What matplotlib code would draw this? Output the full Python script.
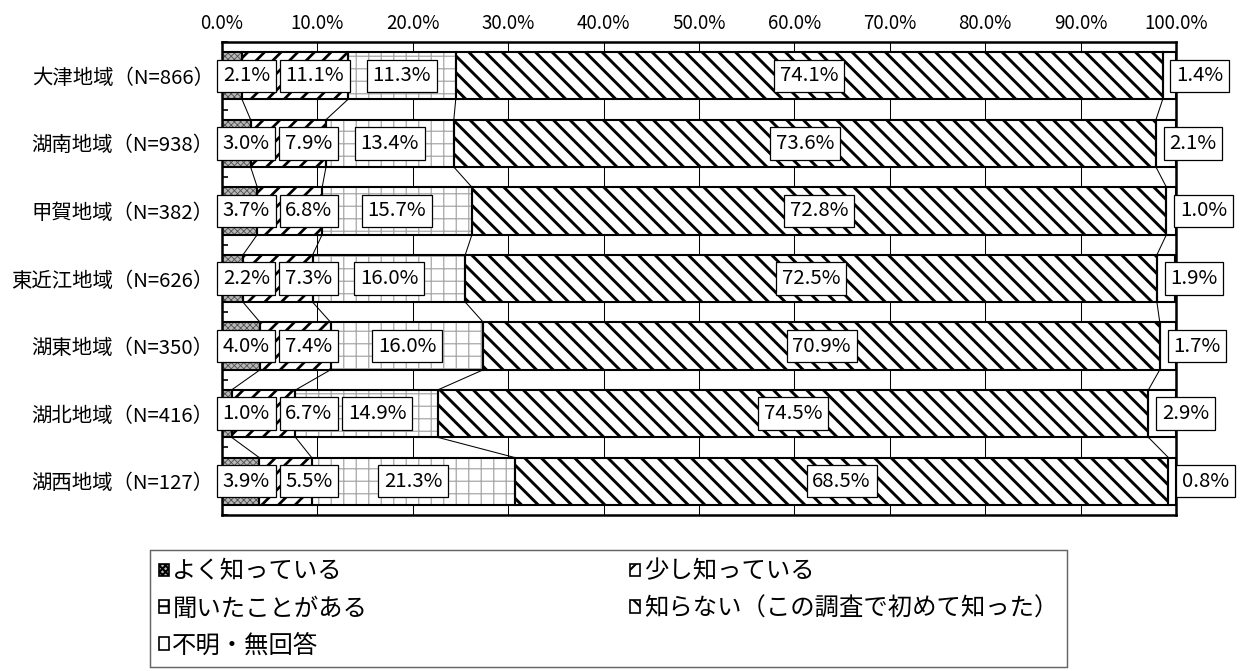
import matplotlib
matplotlib.use('Agg')
import matplotlib.pyplot as plt
from matplotlib.patches import Patch
import numpy as np

plt.rcParams['font.family'] = ['Noto Sans CJK JP', 'DejaVu Sans']

# ---------------- data ----------------
categories = ['大津地域（N=866）', '湖南地域（N=938）', '甲賀地域（N=382）',
              '東近江地域（N=626）', '湖東地域（N=350）', '湖北地域（N=416）',
              '湖西地域（N=127）']
series_names = ['よく知っている', '少し知っている', '聞いたことがある',
                '知らない（この調査で初めて知った）', '不明・無回答']
yoku_shitteiru = [2.1, 3.0, 3.7, 2.2, 4.0, 1.0, 3.9]
sukoshi_shitteiru = [11.1, 7.9, 6.8, 7.3, 7.4, 6.7, 5.5]
kiita_koto_ga_aru = [11.3, 13.4, 15.7, 16.0, 16.0, 14.9, 21.3]
shiranai = [74.1, 73.6, 72.8, 72.5, 70.9, 74.5, 68.5]
fumei = [1.4, 2.1, 1.0, 1.9, 1.7, 2.9, 0.8]
x_ticks = [0, 10, 20, 30, 40, 50, 60, 70, 80, 90, 100]

series_values = [yoku_shitteiru, sukoshi_shitteiru, kiita_koto_ga_aru, shiranai, fumei]

# ---------------- styles ----------------
styles = [
    dict(face='#b8b8b8', hatch='xxxxxxxx', hc='#505050', hlw=0.4),
    dict(face='white', hatch='///', hc='black', hlw=1.3),
    dict(face='white', hatch='++', hc='#a8a8a8', hlw=0.6),
    dict(face='white', hatch='\\\\\\', hc='black', hlw=1.4),
    dict(face='white', hatch=None, hc='black', hlw=1.0),
]

DPI = 150
W, H = 1240, 671
fig = plt.figure(figsize=(W / DPI, H / DPI), dpi=DPI)
ax = fig.add_axes([222 / W, 1 - 515 / H, (1176 - 222) / W, (515 - 42) / H])

n = len(categories)
y = np.arange(n)
bar_h = 0.7
vals = np.array(series_values, dtype=float)
starts = np.vstack([np.zeros(n), np.cumsum(vals, axis=0)[:-1]])
ends = starts + vals

for k, st in enumerate(styles):
    with plt.rc_context({'hatch.linewidth': st['hlw']}):
        fill = ax.barh(y, vals[k], left=starts[k], height=bar_h, color=st['face'],
                       edgecolor=st['hc'], linewidth=0, hatch=st['hatch'], zorder=2)
    for p in fill.patches:
        if hasattr(p, 'set_hatch_linewidth'):
            p.set_hatch_linewidth(st['hlw'])
    ax.barh(y, vals[k], left=starts[k], height=bar_h, fill=False,
            edgecolor='black', linewidth=1.0, zorder=3)

# series lines
for k in range(4):
    for i in range(n - 1):
        ax.plot([ends[k, i], ends[k, i + 1]], [y[i] + bar_h / 2, y[i + 1] - bar_h / 2],
                color='black', lw=0.5, zorder=2.5)

# axes formatting
ax.set_xlim(0, 100)
ax.set_ylim(n - 0.5, -0.5)
ax.xaxis.tick_top()
ax.set_xticks(x_ticks)
ax.set_xticklabels([f'{v:.1f}%' for v in x_ticks], fontsize=9)
ax.tick_params(axis='x', length=0, pad=4)
ax.set_yticks(y)
ax.set_yticklabels(categories, fontsize=9.8)
ax.tick_params(axis='y', which='major', length=0, pad=4)
ax.set_yticks(np.arange(-0.5, n, 1), minor=True)
ax.tick_params(axis='y', which='minor', direction='in', length=3, width=0.8, left=True)
ax.xaxis.grid(True, color='black', lw=0.5)
ax.set_axisbelow(True)
for s in ax.spines.values():
    s.set_linewidth(1.2)

# data labels
fs_lab = 9.8
box = dict(boxstyle='square,pad=0.28', fc='white', ec='black', lw=0.6)
texts = [[None] * 4 for _ in range(n)]
for k in range(4):
    for i in range(n):
        texts[i][k] = ax.text(starts[k, i] + vals[k, i] / 2, y[i], f'{vals[k, i]:.1f}%',
                              ha='center', va='center', fontsize=fs_lab, bbox=box, zorder=5)
for i in range(n):
    ax.annotate(f'{vals[4, i]:.1f}%', xy=(starts[4, i], y[i]), xytext=(6.5, 0),
                textcoords='offset points', ha='left', va='center', fontsize=fs_lab,
                bbox=box, zorder=5, annotation_clip=False)

# legend
handles = [Patch(facecolor=st['face'], hatch=st['hatch'], edgecolor='black', lw=0.8)
           for st in styles]
order = [0, 2, 4, 1, 3]
leg = fig.legend([handles[j] for j in order], [series_names[j] for j in order],
                 loc='upper left', bbox_to_anchor=(150 / W, 1 - 550 / H, (1067 - 150) / W, 0.0),
                 bbox_transform=fig.transFigure, mode='expand', ncol=2, fontsize=11.7,
                 frameon=True, fancybox=False, edgecolor='#404040', borderaxespad=0,
                 handlelength=0.42, handleheight=0.42, handletextpad=0.15,
                 labelspacing=0.45, borderpad=0.35, columnspacing=1.0)
leg.get_frame().set_linewidth(0.7)

# resolve label overlaps left-to-right
fig.canvas.draw()
r = fig.canvas.get_renderer()
pad_px = 0.28 * fs_lab * DPI / 72
x0_disp = ax.transData.transform((0, 0))[0]
gap = 4
for i in range(n):
    prev_right = x0_disp - 5 - gap
    for k in range(4):
        t = texts[i][k]
        bb = t.get_window_extent(r)
        w = bb.width + 2 * pad_px
        cx = (bb.x0 + bb.x1) / 2
        left_edge = cx - w / 2
        if left_edge < prev_right + gap:
            left_edge = prev_right + gap
            cx = left_edge + w / 2
            xd = ax.transData.inverted().transform((cx, 0))[0]
            t.set_x(xd)
        prev_right = left_edge + w

fig.savefig('out.png', dpi=DPI)
